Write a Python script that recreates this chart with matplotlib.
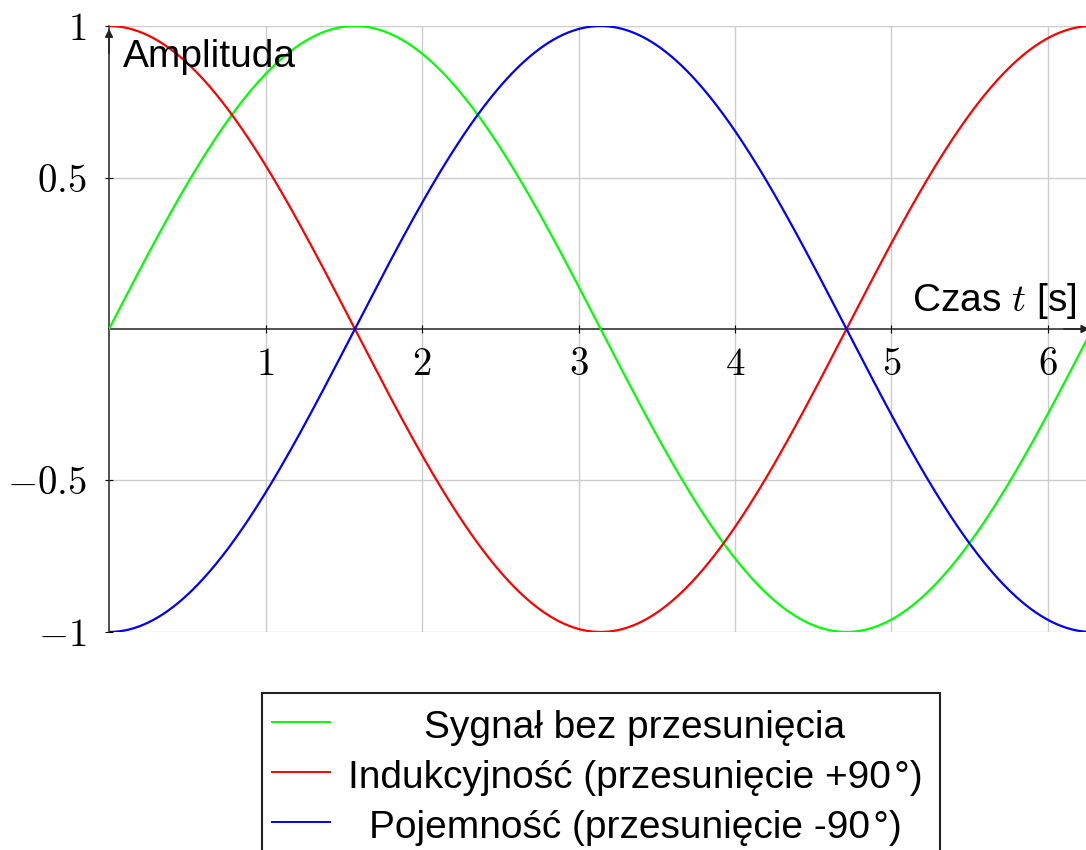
import numpy as np
from matplotlib import pyplot as plt
from matplotlib.lines import Line2D
from matplotlib.patches import Rectangle

plt.rcParams['mathtext.fontset'] = 'cm'
plt.rcParams['font.family'] = ['Liberation Sans', 'DejaVu Sans']

# Sygnały: przesunięcie fazowe w stopniach
etykiety = ["Sygnał bez przesunięcia",
            "Indukcyjność (przesunięcie +90\u200a°)",
            "Pojemność (przesunięcie -90\u200a°)"]
przesuniecia = [0, 90, -90]
kolory = ["#00ff00", "#ff0000", "#0000ff"]
amplituda = 1.0

x_ticks = [1, 2, 3, 4, 5, 6]
y_ticks = [-1, -0.5, 0.5, 1]
y_tick_labels = [r"$-1$", r"$-0.5$", r"$0.5$", r"$1$"]

t = np.linspace(0, 2 * np.pi, 600)

fig = plt.figure(figsize=(10.86, 8.5), dpi=100)
ax = fig.add_axes([0.1004, 0.2565, 0.9054, 0.7129])

for faza, kolor in zip(przesuniecia, kolory):
    ax.plot(t, amplituda * np.sin(t + np.radians(faza)), color=kolor, lw=1.6, zorder=3)

ax.set_xlim(0, 2 * np.pi)
ax.set_ylim(-1, 1)

# osie przez zero
ax.spines['left'].set_position(('data', 0))
ax.spines['bottom'].set_position(('data', 0))
ax.spines['top'].set_visible(False)
ax.spines['right'].set_visible(False)
for s in ['left', 'bottom']:
    ax.spines[s].set_linewidth(1.1)
    ax.spines[s].set_color('#222222')

ax.set_xticks(x_ticks)
ax.set_xticklabels([rf"${v}$" for v in x_ticks])
ax.set_yticks(y_ticks)
ax.set_yticklabels(y_tick_labels)
ax.tick_params(axis='both', direction='inout', length=6, width=0.8, labelsize=28)
ax.tick_params(axis='x', pad=10)
ax.tick_params(axis='y', pad=13)
ax.grid(True, color='#cccccc', lw=1.0)
ax.set_axisbelow(True)

# groty strzałek
ax.annotate('', xy=(0, 1.0), xytext=(0, 0.9),
            arrowprops=dict(arrowstyle='-|>', color='#222222', lw=1.1, mutation_scale=12),
            annotation_clip=False)
ax.annotate('', xy=(2 * np.pi, 0), xytext=(2 * np.pi - 0.2, 0),
            arrowprops=dict(arrowstyle='-|>', color='#222222', lw=1.1, mutation_scale=12),
            annotation_clip=False)

ax.text(0.09, 0.865, "Amplituda", fontsize=28, va='baseline', ha='left')
ax.text(6.185, 0.059, "Czas $t$ [s]", fontsize=28, va='baseline', ha='right')

# legenda
fig.add_artist(Rectangle((0.2413, -0.05), 0.8656 - 0.2413, 0.1847 + 0.05,
                         transform=fig.transFigure, fill=False, ec='#222222', lw=1.5))
for i, (etykieta, kolor) in enumerate(zip(etykiety, kolory)):
    y = 0.1506 - i * 0.0588
    fig.add_artist(Line2D([0.2505, 0.3039], [y, y], transform=fig.transFigure,
                          color=kolor, lw=1.4))
    fig.text(0.5847, y - 0.0188, etykieta, fontsize=28, ha='center', va='baseline')

fig.savefig("out.png", dpi=100)
